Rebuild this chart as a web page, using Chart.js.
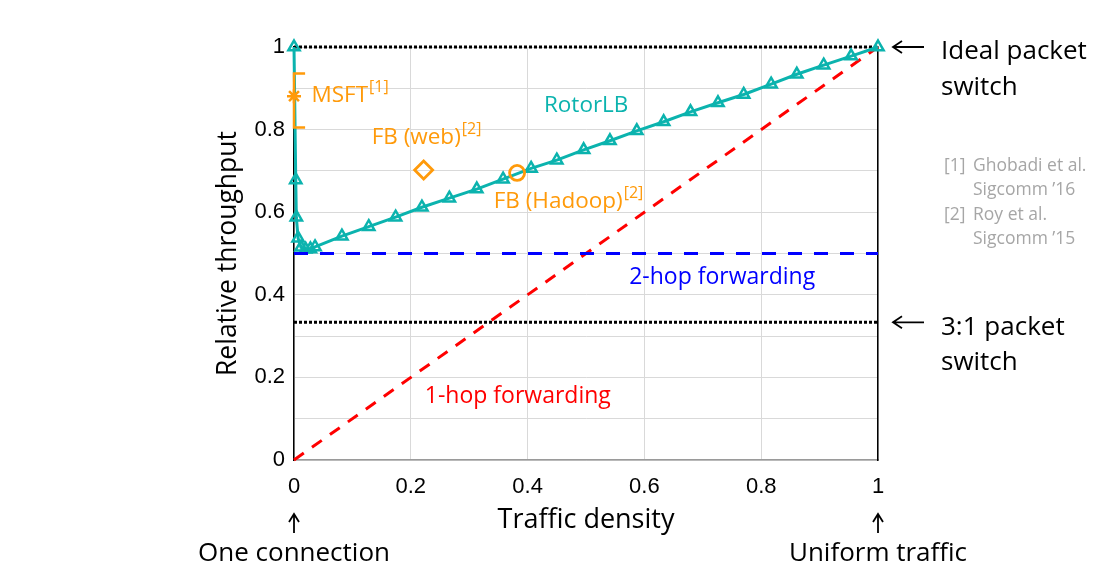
<!DOCTYPE html>
<html>
<head>
<meta charset="utf-8">
<script src="https://cdn.jsdelivr.net/npm/chart.js@4.4.1/dist/chart.umd.min.js"></script>
<style>
  html, body { margin: 0; padding: 0; background: #ffffff; }
  #wrap { width: 1109px; height: 585px; }
</style>
</head>
<body>
<div id="wrap"><canvas id="c" width="1109" height="585"></canvas></div>
<script>
// ---------------- data ----------------
const rotorX = [0, 0.003, 0.004, 0.007, 0.012, 0.020, 0.028, 0.036, 0.082, 0.128, 0.174, 0.219, 0.266, 0.313, 0.358, 0.406, 0.450, 0.496, 0.541, 0.587, 0.633, 0.679, 0.726, 0.770, 0.817, 0.861, 0.907, 0.954, 1.0];
const rotorY = [1.0, 0.678, 0.588, 0.537, 0.515, 0.510, 0.511, 0.516, 0.542, 0.565, 0.588, 0.612, 0.634, 0.656, 0.680, 0.706, 0.726, 0.751, 0.773, 0.797, 0.819, 0.843, 0.865, 0.885, 0.910, 0.934, 0.956, 0.978, 1.0];

const oneHopX = [0, 1];
const oneHopY = [0, 1];
const twoHopX = [0, 1];
const twoHopY = [0.5, 0.5];
const idealX = [0, 1];
const idealY = [1, 1];
const threeToOneX = [0, 1];
const threeToOneY = [1/3, 1/3];

const msftPoint = [0, 0.881];
const msftRange = [0.805, 0.936];
const msftCap = 0.019;
const fbWebPoint = [0.222, 0.702];
const fbHadoopPoint = [0.382, 0.695];

const xTicks = [0, 0.2, 0.4, 0.6, 0.8, 1];
const yTickLabels = ["0", "0.2", "0.4", "0.6", "0.8", "1"];

// ---------------- colors ----------------
const TEAL = '#0BB3AE';
const ORANGE = '#FF9A0A';
const BLUE = '#0000FF';
const RED = '#FF0000';
const GRAY_TXT = '#A6A6A6';

const zip = (xs, ys) => xs.map((x, i) => ({ x: x, y: ys[i] }));

const errBar = [
  { x: msftPoint[0] + msftCap, y: msftRange[1] },
  { x: msftPoint[0], y: msftRange[1] },
  { x: msftPoint[0], y: msftRange[0] },
  { x: msftPoint[0] + msftCap, y: msftRange[0] }
];

const ANN_FONT = '"Open Sans", "Noto Sans", sans-serif';

function supText(ctx, x, y, main, sup, size, color) {
  ctx.save();
  ctx.fillStyle = color;
  ctx.textBaseline = 'middle';
  ctx.textAlign = 'left';
  ctx.font = size + 'px ' + ANN_FONT;
  ctx.fillText(main, x, y);
  const w = ctx.measureText(main).width;
  ctx.font = Math.round(size * 0.7) + 'px ' + ANN_FONT;
  ctx.fillText(sup, x + w + 1, y - size * 0.36);
  ctx.restore();
}

function arrowLeft(ctx, xTip, y, len) {
  ctx.save();
  ctx.strokeStyle = '#000';
  ctx.lineWidth = 1.8;
  ctx.beginPath();
  ctx.moveTo(xTip, y); ctx.lineTo(xTip + len, y);
  ctx.moveTo(xTip + 9, y - 6); ctx.lineTo(xTip, y); ctx.lineTo(xTip + 9, y + 6);
  ctx.stroke();
  ctx.restore();
}
function arrowUp(ctx, x, yTip, len) {
  ctx.save();
  ctx.strokeStyle = '#000';
  ctx.lineWidth = 1.8;
  ctx.beginPath();
  ctx.moveTo(x, yTip); ctx.lineTo(x, yTip + len);
  ctx.moveTo(x - 5, yTip + 8); ctx.lineTo(x, yTip); ctx.lineTo(x + 5, yTip + 8);
  ctx.stroke();
  ctx.restore();
}

const annotations = {
  id: 'annotations',
  afterDraw(chart) {
    const ctx = chart.ctx;
    const xs = chart.scales.x, ys = chart.scales.y;
    const px = v => xs.getPixelForValue(v);
    const py = v => ys.getPixelForValue(v);

    // in-plot labels
    supText(ctx, px(0.030), py(0.882), 'MSFT', '[1]', 22.5, ORANGE);
    supText(ctx, px(0.133), py(0.780), 'FB (web)', '[2]', 22.5, ORANGE);
    supText(ctx, px(0.342), py(0.625), 'FB (Hadoop)', '[2]', 22.5, ORANGE);

    ctx.save();
    ctx.textBaseline = 'middle';
    ctx.textAlign = 'left';
    ctx.font = '22.5px ' + ANN_FONT;
    ctx.fillStyle = TEAL;
    ctx.fillText('RotorLB', px(0.428), py(0.858));
    ctx.font = '23px ' + ANN_FONT;
    ctx.fillStyle = BLUE;
    ctx.fillText('2-hop forwarding', px(0.574), py(0.441));
    ctx.fillStyle = RED;
    ctx.fillText('1-hop forwarding', px(0.224), py(0.153));
    ctx.restore();

    // right side labels
    const right = chart.chartArea.right;
    arrowLeft(ctx, right + 15, py(1), 31);
    arrowLeft(ctx, right + 15, py(1/3), 31);
    ctx.save();
    ctx.textBaseline = 'middle';
    ctx.textAlign = 'left';
    ctx.fillStyle = '#000';
    ctx.font = '26px ' + ANN_FONT;
    ctx.fillText('Ideal packet', right + 63, py(1) + 5);
    ctx.fillText('switch', right + 63, py(1) + 41);
    ctx.fillText('3:1 packet', right + 63, py(1/3) + 5);
    ctx.fillText('switch', right + 63, py(1/3) + 40);

    // references
    ctx.fillStyle = GRAY_TXT;
    ctx.font = '17.5px ' + ANN_FONT;
    ctx.fillText('[1]', right + 66, 166);
    ctx.fillText('Ghobadi et al.', right + 95, 166);
    ctx.fillText('Sigcomm \u201916', right + 95, 190);
    ctx.fillText('[2]', right + 66, 215);
    ctx.fillText('Roy et al.', right + 95, 215);
    ctx.fillText('Sigcomm \u201915', right + 95, 239);

    // bottom labels
    ctx.fillStyle = '#000';
    ctx.textAlign = 'center';
    ctx.font = '26px ' + ANN_FONT;
    ctx.fillText('One connection', px(0), 554);
    ctx.fillText('Uniform traffic', px(1), 554);
    ctx.restore();
    arrowUp(ctx, px(0), 514, 19);
    arrowUp(ctx, px(1), 514, 19);
  }
};

const chart = new Chart(document.getElementById('c'), {
  type: 'scatter',
  data: {
    datasets: [
      { // MSFT error bar
        data: errBar, showLine: true, borderColor: ORANGE, borderWidth: 2.5,
        pointRadius: 0, fill: false, clip: false, order: 0
      },
      { // MSFT point
        data: [{ x: msftPoint[0], y: msftPoint[1] }], pointStyle: 'star',
        pointRadius: 7, borderColor: ORANGE, pointBorderWidth: 2.5, clip: false, order: 0
      },
      { // FB web
        data: [{ x: fbWebPoint[0], y: fbWebPoint[1] }], pointStyle: 'rectRot',
        pointRadius: 9, borderColor: ORANGE, backgroundColor: 'rgba(0,0,0,0)',
        pointBorderWidth: 2.8, clip: false, order: 0
      },
      { // FB Hadoop
        data: [{ x: fbHadoopPoint[0], y: fbHadoopPoint[1] }], pointStyle: 'circle',
        pointRadius: 7.5, borderColor: ORANGE, backgroundColor: 'rgba(0,0,0,0)',
        pointBorderWidth: 2.8, clip: false, order: 0
      },
      { // 2-hop
        data: zip(twoHopX, twoHopY), showLine: true, borderColor: BLUE, borderWidth: 3,
        borderDash: [14, 12], pointRadius: 0, clip: false, order: 1
      },
      { // RotorLB
        data: zip(rotorX, rotorY), showLine: true, borderColor: TEAL, borderWidth: 3,
        pointStyle: 'triangle', pointRadius: 6.5, pointBorderWidth: 2.5,
        pointBorderColor: TEAL, pointBackgroundColor: 'rgba(255,255,255,0)',
        clip: false, order: 2
      },
      { // ideal
        data: zip(idealX, idealY), showLine: true, borderColor: '#000', borderWidth: 3,
        borderDash: [3, 2], pointRadius: 0, clip: false, order: 3
      },
      { // 3:1
        data: zip(threeToOneX, threeToOneY), showLine: true, borderColor: '#000', borderWidth: 3,
        borderDash: [3, 2], pointRadius: 0, clip: false, order: 3
      },
      { // 1-hop
        data: zip(oneHopX, oneHopY), showLine: true, borderColor: RED, borderWidth: 3,
        borderDash: [12, 10], pointRadius: 0, clip: false, order: 4
      }
    ]
  },
  options: {
    responsive: false,
    animation: false,
    devicePixelRatio: 1,
    layout: { padding: { left: 204, right: 231, top: 47, bottom: 48 } },
    plugins: { legend: { display: false }, tooltip: { enabled: false } },
    scales: {
      x: {
        type: 'linear', min: 0, max: 1,
        afterBuildTicks: s => { s.ticks = xTicks.map(v => ({ value: v })); },
        afterFit: s => { s.height = 77; },
        ticks: {
          color: '#000', padding: 14,
          font: { family: '"Liberation Sans", Arial, sans-serif', size: 22 },
          callback: v => String(Math.round(v * 10) / 10)
        },
        grid: { color: '#D9D9D9', lineWidth: 1, drawTicks: false },
        border: { color: '#9A9A9A', width: 1.5 },
        title: {
          display: true, text: 'Traffic density', color: '#000',
          font: { family: ANN_FONT, size: 27 }, padding: 0
        }
      },
      y: {
        type: 'linear', min: 0, max: 1,
        afterBuildTicks: s => { const t = []; for (let i = 0; i <= 10; i++) t.push({ value: i / 10 }); s.ticks = t; },
        afterFit: s => { s.width = 90; },
        ticks: {
          color: '#000', padding: 9,
          font: { family: '"Liberation Sans", Arial, sans-serif', size: 22 },
          callback: (v, i) => (i % 2 === 0 ? yTickLabels[i / 2] : '')
        },
        grid: { color: '#D9D9D9', lineWidth: 1, drawTicks: false },
        border: { color: '#000', width: 1.5 },
        title: {
          display: true, text: 'Relative throughput', color: '#000',
          font: { family: ANN_FONT, size: 26.5 }, padding: 9
        }
      },
      yR: {
        type: 'linear', position: 'right', min: 0, max: 1,
        ticks: { display: false },
        grid: { display: false, drawTicks: false },
        border: { color: '#000', width: 1.5 },
        afterFit: s => { s.width = 0; }
      }
    }
  },
  plugins: [annotations]
});
</script>
</body>
</html>
